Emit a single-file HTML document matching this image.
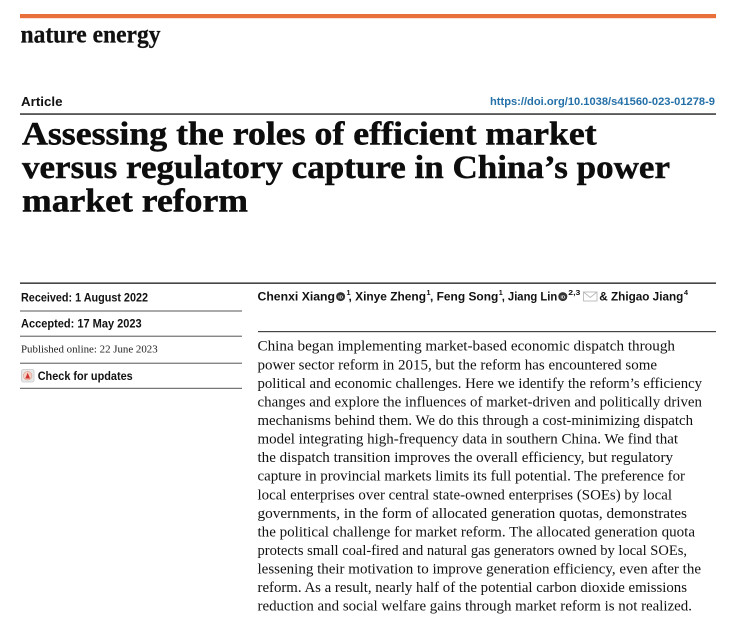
<!DOCTYPE html>
<html>
<head>
<meta charset="utf-8">
<style>
  html, body { margin: 0; padding: 0; background: #ffffff; }
  body { width: 730px; height: 624px; overflow: hidden; }
  svg { display: block; }
  .sans { font-family: "Liberation Sans", "DejaVu Sans", sans-serif; }
  .serif { font-family: "Liberation Serif", "DejaVu Serif", serif; }
</style>
</head>
<body>
<svg width="730" height="624" viewBox="0 0 730 624" xmlns="http://www.w3.org/2000/svg">
  <rect x="0" y="0" width="730" height="624" fill="#ffffff"/>

  <!-- orange top bar -->
  <rect x="20" y="14" width="696" height="4.2" fill="#e8703a"/>

  <!-- journal name -->
  <text class="serif" x="20.5" y="42.7" font-size="25.5" font-weight="bold" fill="#111" stroke="#111" stroke-width="0.3" textLength="140" lengthAdjust="spacingAndGlyphs">nature energy</text>

  <!-- Article / DOI -->
  <text class="sans" x="21" y="106" font-size="12.8" font-weight="bold" fill="#111" textLength="41.5" lengthAdjust="spacingAndGlyphs">Article</text>
  <text class="sans" x="490" y="105" font-size="10.6" font-weight="bold" fill="#2470a8" textLength="225" lengthAdjust="spacingAndGlyphs">https://doi.org/10.1038/s41560-023-01278-9</text>
  <rect x="20" y="113.4" width="696" height="1.3" fill="#111"/>

  <!-- Title -->
  <g class="serif" font-size="33" font-weight="bold" fill="#0d0d0d" stroke="#0d0d0d" stroke-width="0.45">
    <text x="22" y="144.5" textLength="574.7" lengthAdjust="spacingAndGlyphs">Assessing the roles of efficient market</text>
    <text x="22" y="178" textLength="648" lengthAdjust="spacingAndGlyphs">versus regulatory capture in China’s power</text>
    <text x="22" y="211.5" textLength="226" lengthAdjust="spacingAndGlyphs">market reform</text>
  </g>

  <!-- separator -->
  <rect x="20" y="282.5" width="696" height="1.3" fill="#1a1a1a"/>

  <!-- Left column -->
  <text class="sans" x="21" y="301.7" font-size="11.6" font-weight="bold" fill="#111" textLength="127" lengthAdjust="spacingAndGlyphs">Received: 1 August 2022</text>
  <rect x="20" y="310.5" width="222" height="1" fill="#555"/>
  <text class="sans" x="21" y="327.3" font-size="11.6" font-weight="bold" fill="#111" textLength="120.7" lengthAdjust="spacingAndGlyphs">Accepted: 17 May 2023</text>
  <rect x="20" y="335.7" width="222" height="1" fill="#555"/>
  <text class="serif" x="21" y="352.7" font-size="11" fill="#222" textLength="136.7" lengthAdjust="spacingAndGlyphs">Published online: 22 June 2023</text>
  <rect x="20" y="362.7" width="222" height="1" fill="#555"/>
  <!-- check for updates icon -->
  <rect x="21.5" y="369.5" width="12.5" height="12.5" rx="2" fill="#e9e9e9" stroke="#c8c8c8" stroke-width="0.8"/>
  <circle cx="27.7" cy="375.7" r="4.3" fill="#f4d1c4" stroke="#d9a08a" stroke-width="0.6"/>
  <path d="M25.3 378.5 L27.7 372.8 L30.1 378.5 Z" fill="#d2322d"/>
  <text class="sans" x="37.7" y="380" font-size="11.6" font-weight="bold" fill="#111" textLength="95" lengthAdjust="spacingAndGlyphs">Check for updates</text>
  <rect x="20" y="387.8" width="222" height="1" fill="#555"/>

  <!-- Authors -->
  <g class="sans" font-weight="bold" fill="#111">
    <text x="257.5" y="300.7" font-size="12" textLength="77.5" lengthAdjust="spacingAndGlyphs">Chenxi Xiang</text>
    <circle cx="340.6" cy="296.6" r="4.5" fill="#333"/>
    <text x="338.3" y="298.6" font-size="4.8" fill="#fff">iD</text>
    <text x="346.5" y="295" font-size="7.2">1</text>
    <text x="348.5" y="300.7" font-size="12" textLength="77.5" lengthAdjust="spacingAndGlyphs">, Xinye Zheng</text>
    <text x="426.5" y="295" font-size="7.2">1</text>
    <text x="430" y="300.7" font-size="12" textLength="68.3" lengthAdjust="spacingAndGlyphs">, Feng Song</text>
    <text x="498.8" y="295" font-size="7.2">1</text>
    <text x="501.7" y="300.7" font-size="12" textLength="55.6" lengthAdjust="spacingAndGlyphs">, Jiang Lin</text>
    <circle cx="562.8" cy="296.6" r="4.5" fill="#333"/>
    <text x="560.5" y="298.6" font-size="4.8" fill="#fff">iD</text>
    <text x="568.3" y="295" font-size="7.2" textLength="12" lengthAdjust="spacingAndGlyphs">2,3</text>
    <text x="599.3" y="300.7" font-size="12" textLength="84" lengthAdjust="spacingAndGlyphs">&amp; Zhigao Jiang</text>
    <text x="684" y="295" font-size="7.2">4</text>
  </g>
  <!-- envelope -->
  <rect x="583.5" y="292" width="13.5" height="9" fill="none" stroke="#b9b9b9" stroke-width="0.9"/>
  <path d="M583.5 292 L590.25 297.5 L597 292" fill="none" stroke="#b9b9b9" stroke-width="0.9"/>

  <rect x="258" y="331" width="458" height="1.2" fill="#444"/>

  <!-- Abstract -->
  <g class="serif" font-size="14.6" fill="#111">
    <text x="257.5" y="350.7" textLength="417.5" lengthAdjust="spacingAndGlyphs">China began implementing market-based economic dispatch through</text>
    <text x="257.5" y="369.27" textLength="399.5" lengthAdjust="spacingAndGlyphs">power sector reform in 2015, but the reform has encountered some</text>
    <text x="257.5" y="387.84" textLength="444.5" lengthAdjust="spacingAndGlyphs">political and economic challenges. Here we identify the reform’s efficiency</text>
    <text x="257.5" y="406.41" textLength="444.5" lengthAdjust="spacingAndGlyphs">changes and explore the influences of market-driven and politically driven</text>
    <text x="257.5" y="424.98" textLength="435.5" lengthAdjust="spacingAndGlyphs">mechanisms behind them. We do this through a cost-minimizing dispatch</text>
    <text x="257.5" y="443.55" textLength="420.5" lengthAdjust="spacingAndGlyphs">model integrating high-frequency data in southern China. We find that</text>
    <text x="257.5" y="462.12" textLength="415.5" lengthAdjust="spacingAndGlyphs">the dispatch transition improves the overall efficiency, but regulatory</text>
    <text x="257.5" y="480.69" textLength="427.5" lengthAdjust="spacingAndGlyphs">capture in provincial markets limits its full potential. The preference for</text>
    <text x="257.5" y="499.26" textLength="414.5" lengthAdjust="spacingAndGlyphs">local enterprises over central state-owned enterprises (SOEs) by local</text>
    <text x="257.5" y="517.83" textLength="429.5" lengthAdjust="spacingAndGlyphs">governments, in the form of allocated generation quotas, demonstrates</text>
    <text x="257.5" y="536.4" textLength="437.5" lengthAdjust="spacingAndGlyphs">the political challenge for market reform. The allocated generation quota</text>
    <text x="257.5" y="554.97" textLength="429.5" lengthAdjust="spacingAndGlyphs">protects small coal-fired and natural gas generators owned by local SOEs,</text>
    <text x="257.5" y="573.54" textLength="443.5" lengthAdjust="spacingAndGlyphs">lessening their motivation to improve generation efficiency, even after the</text>
    <text x="257.5" y="592.11" textLength="429.5" lengthAdjust="spacingAndGlyphs">reform. As a result, nearly half of the potential carbon dioxide emissions</text>
    <text x="257.5" y="610.7" textLength="434.5" lengthAdjust="spacingAndGlyphs">reduction and social welfare gains through market reform is not realized.</text>
  </g>
</svg>
</body>
</html>
